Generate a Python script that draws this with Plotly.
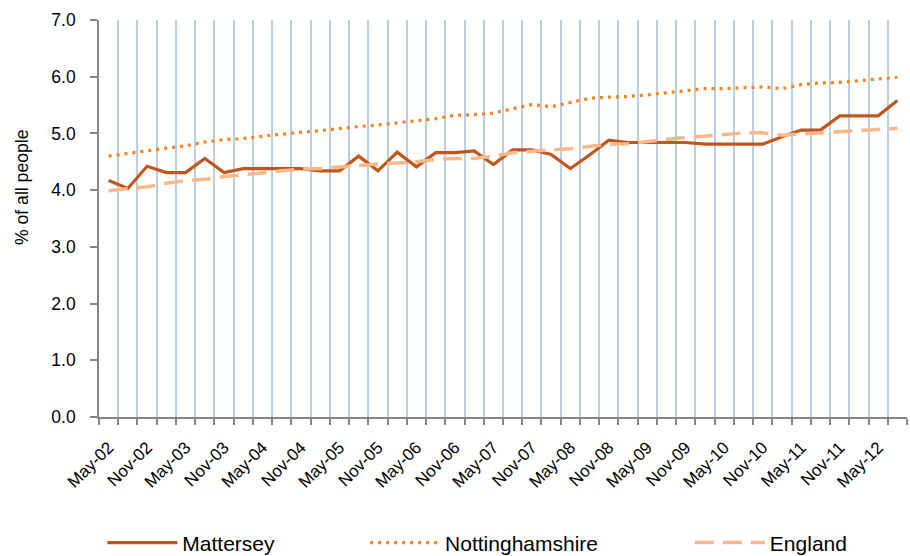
import plotly.graph_objects as go

quarters = ["May-02", "Aug-02", "Nov-02", "Feb-03", "May-03", "Aug-03", "Nov-03", "Feb-04",
            "May-04", "Aug-04", "Nov-04", "Feb-05", "May-05", "Aug-05", "Nov-05", "Feb-06",
            "May-06", "Aug-06", "Nov-06", "Feb-07", "May-07", "Aug-07", "Nov-07", "Feb-08",
            "May-08", "Aug-08", "Nov-08", "Feb-09", "May-09", "Aug-09", "Nov-09", "Feb-10",
            "May-10", "Aug-10", "Nov-10", "Feb-11", "May-11", "Aug-11", "Nov-11", "Feb-12",
            "May-12", "Aug-12"]

mattersey = [4.17, 4.03, 4.42, 4.31, 4.31, 4.56, 4.31, 4.38, 4.38, 4.38, 4.38, 4.34, 4.34, 4.60,
             4.34, 4.67, 4.41, 4.66, 4.66, 4.69, 4.45, 4.71, 4.71, 4.63, 4.38, 4.62, 4.88, 4.84,
             4.84, 4.84, 4.84, 4.81, 4.81, 4.81, 4.81, 4.94, 5.06, 5.06, 5.31, 5.31, 5.31, 5.58]

nottinghamshire = [4.60, 4.65, 4.70, 4.74, 4.78, 4.85, 4.89, 4.91, 4.95, 4.99, 5.02, 5.05, 5.09, 5.12,
                   5.15, 5.19, 5.22, 5.26, 5.32, 5.33, 5.36, 5.43, 5.51, 5.47, 5.54, 5.62, 5.64, 5.65,
                   5.68, 5.72, 5.76, 5.79, 5.79, 5.81, 5.82, 5.79, 5.86, 5.89, 5.90, 5.93, 5.96, 5.99]

england = [3.99, 4.02, 4.06, 4.12, 4.17, 4.19, 4.24, 4.27, 4.31, 4.34, 4.37, 4.38, 4.41, 4.44,
           4.46, 4.48, 4.50, 4.54, 4.56, 4.56, 4.60, 4.66, 4.69, 4.71, 4.73, 4.77, 4.81, 4.82,
           4.86, 4.90, 4.93, 4.95, 4.98, 5.01, 5.01, 4.97, 4.99, 5.01, 5.03, 5.05, 5.07, 5.09]

y_ticks = [0, 1, 2, 3, 4, 5, 6, 7]

idx = list(range(len(quarters)))
label_idx = idx[::2]
label_text = [quarters[i] for i in label_idx]

FONT = "Liberation Sans, Arial, sans-serif"
W, H = 910, 556
L, R, T, B = 98.7, 2.7, 20, 139.3
PW, PH = W - L - R, H - T - B
ITEMW = 70

fig = go.Figure()
fig.add_trace(go.Scatter(x=idx, y=mattersey, name="Mattersey", mode="lines",
                         line=dict(color="#BF561C", width=3.2), legend="legend"))
fig.add_trace(go.Scatter(x=idx, y=nottinghamshire, name="Nottinghamshire", mode="lines",
                         line=dict(color="#F58220", width=3.2, dash="3px,5px"), legend="legend2"))
fig.add_trace(go.Scatter(x=idx, y=england, name="England", mode="lines",
                         line=dict(color="#FAB88A", width=3.5, dash="19px,9px"), legend="legend3"))

def legend_at(px_text_left):
    return dict(orientation="h", xref="paper", yref="paper",
                x=(px_text_left - ITEMW - 11 - L) / PW, y=-(522 - T - PH) / PH,
                xanchor="left", yanchor="top", itemwidth=ITEMW,
                font=dict(family=FONT, size=21, color="#000000"),
                bgcolor="rgba(0,0,0,0)", borderwidth=0, visible=True)

fig.update_layout(
    width=W, height=H,
    margin=dict(l=L, r=R, t=T, b=B, autoexpand=False),
    paper_bgcolor="white", plot_bgcolor="white",
    font=dict(family=FONT, color="#000000"),
    showlegend=True,
    legend=legend_at(183),
    legend2=legend_at(446),
    legend3=legend_at(771),
    xaxis=dict(
        range=[-0.5, len(quarters) - 0.5],
        tickmode="array", tickvals=label_idx, ticktext=label_text,
        tickangle=-45, ticks="", showgrid=False, automargin=False,
        tickfont=dict(family=FONT, size=17, color="#000000"),
        ticklabelstandoff=12,
        showline=True, linecolor="#868686", linewidth=1.6,
        minor=dict(tickmode="linear", tick0=-0.5, dtick=1, ticks="outside",
                   ticklen=6, tickcolor="#868686", tickwidth=1.6,
                   showgrid=True, gridcolor="#B9CDE5", gridwidth=1.6),
        zeroline=False,
    ),
    yaxis=dict(
        range=[0, 7], tickmode="array", tickvals=y_ticks, tickformat=".1f",
        ticks="outside", ticklen=7, tickcolor="#868686", tickwidth=1.6,
        ticklabelstandoff=11, automargin=False,
        tickfont=dict(family=FONT, size=17.5, color="#000000"),
        showline=True, linecolor="#868686", linewidth=1.6,
        showgrid=False, zeroline=False,
    ),
    annotations=[dict(text="% of all people", xref="paper", yref="paper",
                      x=(21 - L) / PW, y=(416.7 - 187.5) / PH,
                      textangle=-90, showarrow=False, xanchor="center", yanchor="middle",
                      font=dict(family=FONT, size=17.6, color="#000000"))],
)

fig.write_html("out.html", config={"displayModeBar": False},
               post_script="document.body.style.margin='0';document.body.style.padding='0';")
